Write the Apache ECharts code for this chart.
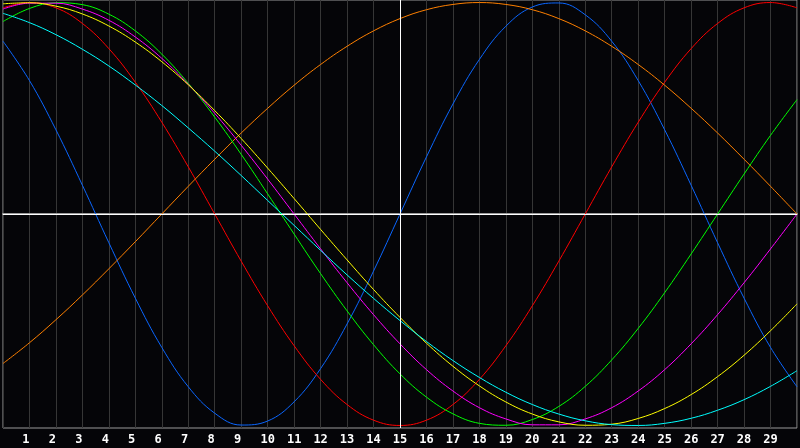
<!DOCTYPE html>
<html lang="en">
  <head>
    <meta charset="UTF-8" />
    <title>Biorhythm</title>
    <style>
      html, body { margin: 0; padding: 0; background: #050508; }
      #main { width: 800px; height: 448px; }
    </style>
  </head>
  <body>
    <div id="main"></div>
    <script src="https://cdn.jsdelivr.net/npm/echarts@6/dist/echarts.min.js"></script>
    <script>
      // days 0..30, labels only shown for 1..29
      let days = []
      for (let i = 0; i <= 30; i++) days.push(String(i))

      // values, one per day
      let blue = [0.817, 0.631, 0.398, 0.136, -0.136, -0.398, -0.631, -0.817, -0.942, -0.998, -0.979,
        -0.888, -0.731, -0.520, -0.270, 0, 0.270, 0.520, 0.731, 0.888, 0.979,
        0.998, 0.942, 0.817, 0.631, 0.398, 0.136, -0.136, -0.398, -0.631, -0.817]
      let red = [0.975, 1.0, 0.975, 0.901, 0.782, 0.623, 0.434, 0.223, 0, -0.223, -0.434,
        -0.623, -0.782, -0.901, -0.975, -1.0, -0.975, -0.901, -0.782, -0.623, -0.434,
        -0.223, 0, 0.223, 0.434, 0.623, 0.782, 0.901, 0.975, 1.0, 0.975]
      let orange = [-0.707, -0.609, -0.5, -0.383, -0.259, -0.131, 0, 0.131, 0.259, 0.383, 0.5,
        0.609, 0.707, 0.793, 0.866, 0.924, 0.966, 0.991, 1.0, 0.991, 0.966,
        0.924, 0.866, 0.793, 0.707, 0.609, 0.5, 0.383, 0.259, 0.131, 0]
      let green = [0.91, 0.972, 0.999, 0.99, 0.945, 0.866, 0.756, 0.618, 0.458, 0.282, 0.095,
        -0.095, -0.282, -0.458, -0.618, -0.756, -0.866, -0.945, -0.99, -0.999, -0.972,
        -0.91, -0.815, -0.69, -0.541, -0.372, -0.189, 0, 0.189, 0.372, 0.541]
      let magenta = [0.969, 0.997, 0.997, 0.969, 0.916, 0.837, 0.736, 0.614, 0.476, 0.325, 0.165,
        0, -0.165, -0.325, -0.476, -0.614, -0.736, -0.837, -0.916, -0.969, -0.997,
        -0.997, -0.969, -0.916, -0.837, -0.736, -0.614, -0.476, -0.325, -0.165, 0]
      let yellow = [0.994, 0.999, 0.983, 0.946, 0.889, 0.813, 0.72, 0.611, 0.489, 0.357, 0.217,
        0.073, -0.073, -0.217, -0.357, -0.489, -0.611, -0.72, -0.813, -0.889, -0.946,
        -0.983, -0.999, -0.994, -0.967, -0.92, -0.854, -0.769, -0.668, -0.552, -0.425]
      let cyan = [0.949, 0.905, 0.848, 0.779, 0.7, 0.61, 0.513, 0.407, 0.297, 0.182, 0.064,
        -0.054, -0.172, -0.288, -0.399, -0.504, -0.603, -0.693, -0.773, -0.843, -0.901,
        -0.946, -0.978, -0.996, -1.0, -0.99, -0.966, -0.928, -0.878, -0.815, -0.741]

      let curves = [
        { name: '23', data: blue, color: '#0a66ff' },
        { name: '28', data: red, color: '#ff0000' },
        { name: '48', data: orange, color: '#ff8000' },
        { name: '33', data: green, color: '#00ff00' },
        { name: '38', data: magenta, color: '#ff00ff' },
        { name: '43', data: yellow, color: '#ffff00' },
        { name: '53', data: cyan, color: '#00ffff' }
      ]

      let myChart = echarts.init(document.getElementById('main'))

      let series = curves.map(c => ({
        name: c.name,
        type: 'line',
        data: c.data,
        smooth: 0.4,
        showSymbol: false,
        lineStyle: { color: c.color, width: 1 },
        z: 3
      }))

      // white cross: zero line and today
      series[0].markLine = {
        silent: true,
        symbol: 'none',
        label: { show: false },
        lineStyle: { color: '#ffffff', type: 'solid', width: 1 },
        data: [{ yAxis: 0 }, { xAxis: '15' }]
      }

      let option = {
        backgroundColor: '#050508',
        animation: false,
        grid: {
          left: 0, right: 1, top: 0, bottom: 20,
          show: true,
          borderColor: '#9a9a9a',
          borderWidth: 1
        },
        xAxis: {
          type: 'category',
          data: days,
          boundaryGap: false,
          axisLine: { show: true, lineStyle: { color: '#9a9a9a', width: 2 } },
          axisTick: { show: false },
          axisLabel: {
            interval: 0,
            color: '#ffffff',
            fontFamily: 'DejaVu Sans Mono',
            fontWeight: 'bold',
            fontSize: 12,
            margin: 6,
            // single digits sit a little left of their line, as in the original
            formatter: v => (v === '0' || v === '30' ? '' : v.length === 1 ? v + ' ' : v)
          },
          splitLine: { show: true, lineStyle: { color: '#363636', width: 1 } }
        },
        yAxis: {
          type: 'value',
          min: -1.012,
          max: 1.012,
          show: false,
          splitLine: { show: false }
        },
        series: series
      }
      myChart.setOption(option)
    </script>
  </body>
</html>
